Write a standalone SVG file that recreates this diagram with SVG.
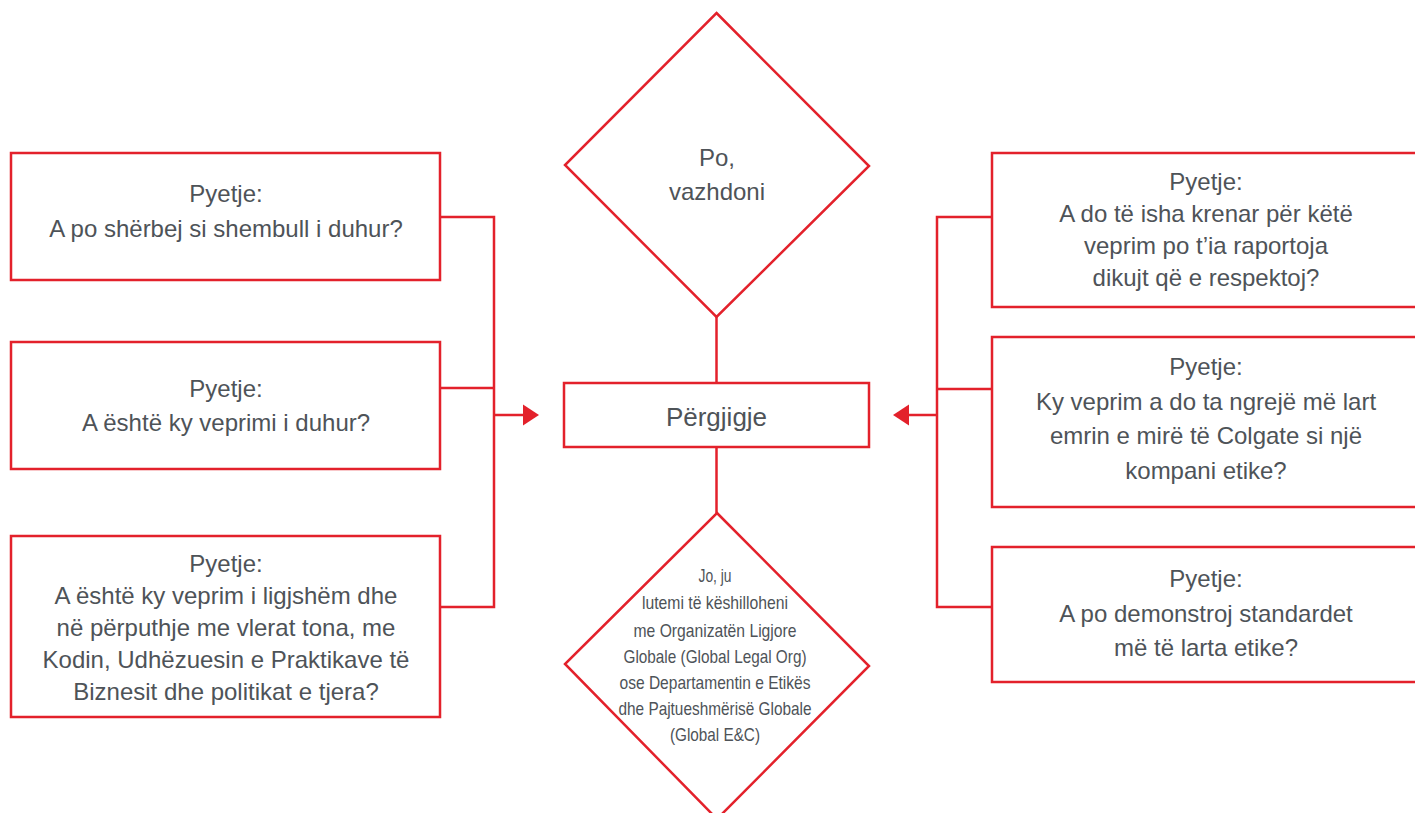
<svg xmlns="http://www.w3.org/2000/svg" width="1415" height="813" viewBox="0 0 1415 813">
<defs>
<style>
.box{fill:#ffffff;stroke:#e3212b;stroke-width:2.5}
.ln{fill:none;stroke:#e3212b;stroke-width:2.5}
.ah{fill:#e3212b;stroke:none}
.t{font-family:"Liberation Sans",Arial,sans-serif;font-size:24px;fill:#4e5358;text-anchor:middle}
.tc{font-family:"Liberation Sans",Arial,sans-serif;font-size:18.5px;fill:#4e5358;text-anchor:middle}
</style>
</defs>
<rect width="1415" height="813" fill="#ffffff"/>
<g id="connectors">
<polyline class="ln" points="440,217 494,217 494,607 440,607"/>
<line class="ln" x1="440" y1="388" x2="494" y2="388"/>
<line class="ln" x1="494" y1="415" x2="524" y2="415"/>
<polygon class="ah" points="523,404.5 539,415 523,425.5"/>
<polyline class="ln" points="992,217 937,217 937,607 992,607"/>
<line class="ln" x1="992" y1="389" x2="937" y2="389"/>
<line class="ln" x1="937" y1="415" x2="908" y2="415"/>
<polygon class="ah" points="909,404.5 893,415 909,425.5"/>
<line class="ln" x1="716.5" y1="317" x2="716.5" y2="383"/>
<line class="ln" x1="716.5" y1="447" x2="716.5" y2="513"/>
</g>
<g id="q-left-1">
<rect class="box" x="11" y="153" width="429" height="127"/>
<text class="t" x="226" y="202">Pyetje:</text>
<text class="t" x="226" y="237">A po shërbej si shembull i duhur?</text>
</g>
<g id="q-left-2">
<rect class="box" x="11" y="342" width="429" height="127"/>
<text class="t" x="226" y="397">Pyetje:</text>
<text class="t" x="226" y="431">A është ky veprimi i duhur?</text>
</g>
<g id="q-left-3">
<rect class="box" x="11" y="536" width="429" height="181"/>
<text class="t" x="226" y="572">Pyetje:</text>
<text class="t" x="226" y="604">A është ky veprim i ligjshëm dhe</text>
<text class="t" x="226" y="636">në përputhje me vlerat tona, me</text>
<text class="t" x="226" y="668">Kodin, Udhëzuesin e Praktikave të</text>
<text class="t" x="226" y="700">Biznesit dhe politikat e tjera?</text>
</g>
<g id="q-right-1">
<rect class="box" x="992" y="153" width="430" height="154"/>
<text class="t" x="1206" y="190">Pyetje:</text>
<text class="t" x="1206" y="222">A do të isha krenar për këtë</text>
<text class="t" x="1206" y="254">veprim po t’ia raportoja</text>
<text class="t" x="1206" y="286">dikujt që e respektoj?</text>
</g>
<g id="q-right-2">
<rect class="box" x="992" y="337" width="430" height="170"/>
<text class="t" x="1206" y="375">Pyetje:</text>
<text class="t" x="1206" y="410">Ky veprim a do ta ngrejë më lart</text>
<text class="t" x="1206" y="444">emrin e mirë të Colgate si një</text>
<text class="t" x="1206" y="479">kompani etike?</text>
</g>
<g id="q-right-3">
<rect class="box" x="992" y="547" width="430" height="135"/>
<text class="t" x="1206" y="587">Pyetje:</text>
<text class="t" x="1206" y="622">A po demonstroj standardet</text>
<text class="t" x="1206" y="656">më të larta etike?</text>
</g>
<g id="yes">
<polygon class="box" points="716.5,13 869,166 716.5,317 565,165"/>
<text class="t" x="717" y="166">Po,</text>
<text class="t" x="717" y="200">vazhdoni</text>
</g>
<g id="answer">
<rect class="box" x="564" y="383" width="305" height="64"/>
<text class="t" x="716.5" y="426" style="font-size:26px">Përgjigje</text>
</g>
<g id="no">
<polygon class="box" points="717,513 869,666 717,819 565,664"/>
<text class="tc" x="715" y="582" textLength="33" lengthAdjust="spacingAndGlyphs">Jo, ju</text>
<text class="tc" x="715" y="609" textLength="146" lengthAdjust="spacingAndGlyphs">lutemi të këshilloheni</text>
<text class="tc" x="715" y="637" textLength="163" lengthAdjust="spacingAndGlyphs">me Organizatën Ligjore</text>
<text class="tc" x="715" y="663" textLength="183" lengthAdjust="spacingAndGlyphs">Globale (Global Legal Org)</text>
<text class="tc" x="715" y="689" textLength="191" lengthAdjust="spacingAndGlyphs">ose Departamentin e Etikës</text>
<text class="tc" x="715" y="715" textLength="193" lengthAdjust="spacingAndGlyphs">dhe Pajtueshmërisë Globale</text>
<text class="tc" x="715" y="741" textLength="90" lengthAdjust="spacingAndGlyphs">(Global E&amp;C)</text>
</g>
</svg>
